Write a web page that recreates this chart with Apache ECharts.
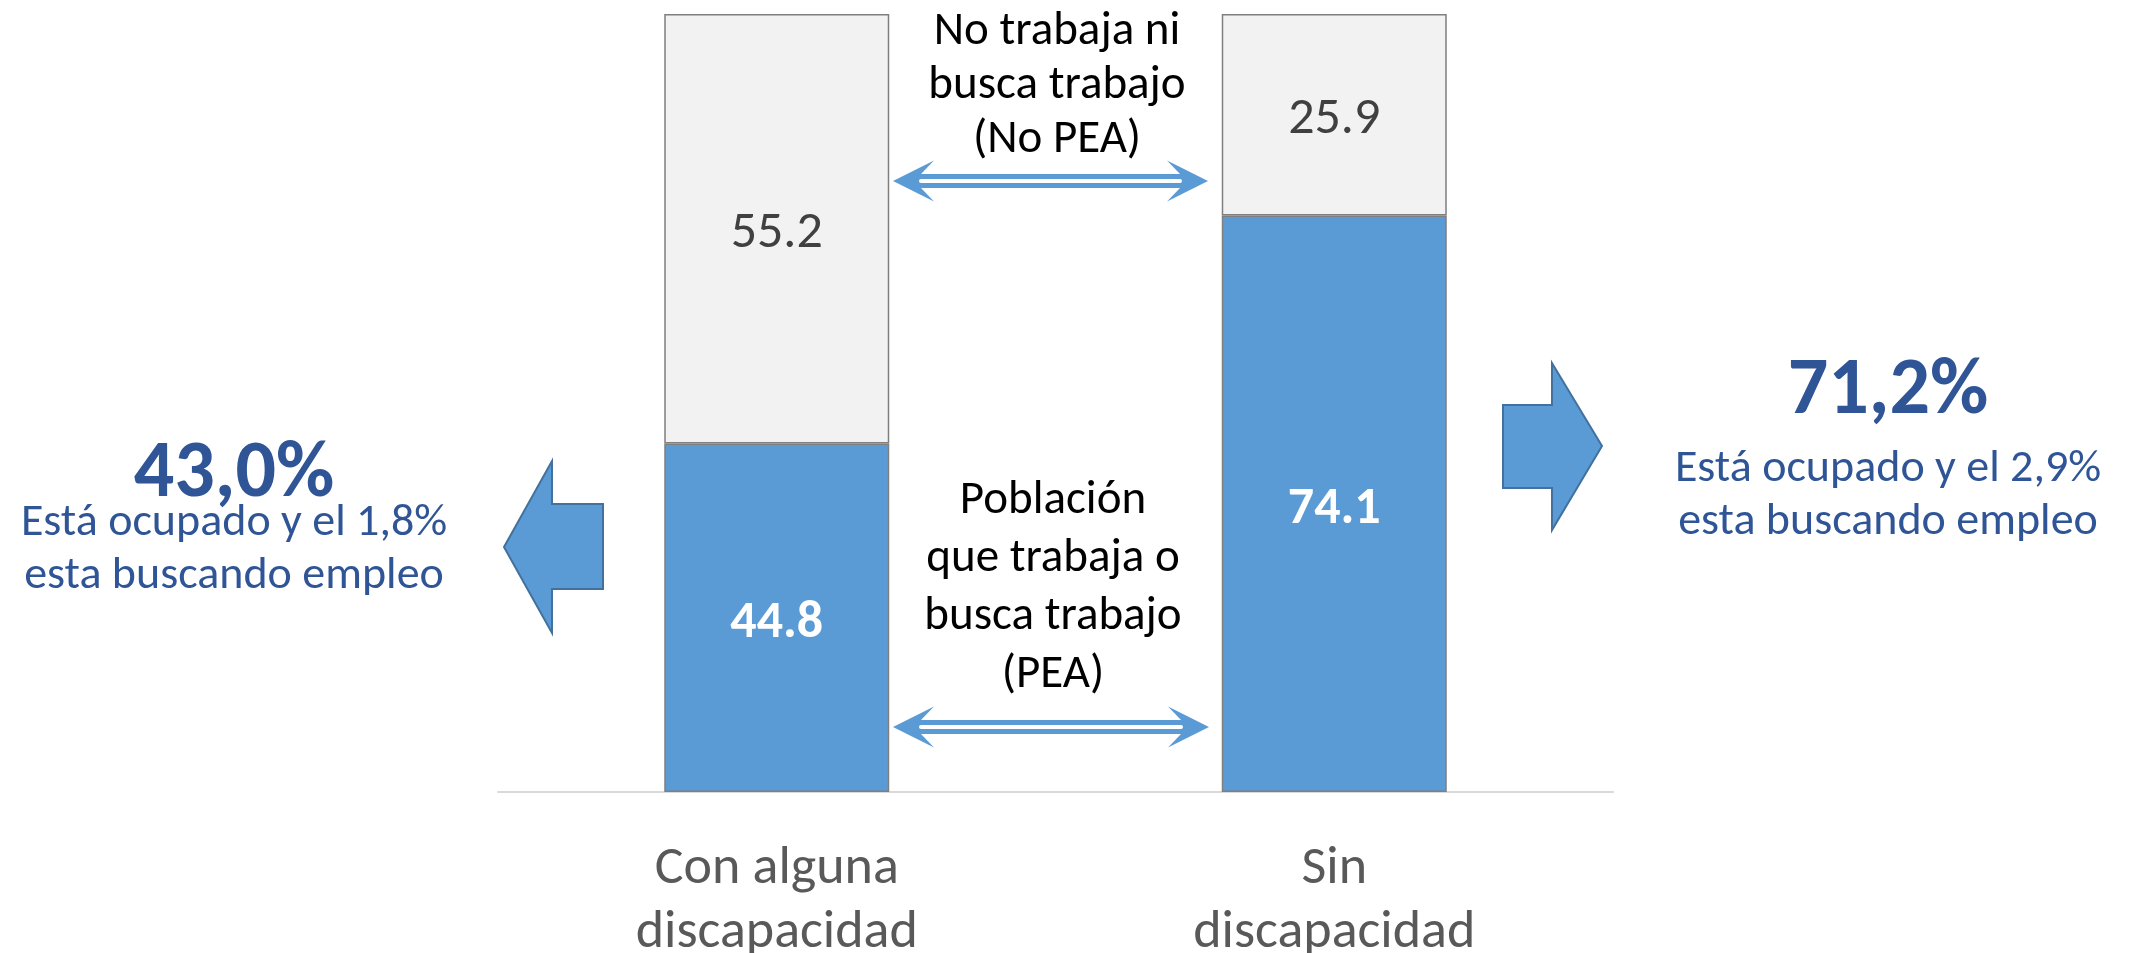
<!DOCTYPE html>
<html lang="es">
<head>
    <meta charset="UTF-8">
    <title>PEA segun condicion de discapacidad</title>
    <style>
        html, body { margin: 0; padding: 0; background: #ffffff; }
        #grafico { width: 2138px; height: 953px; }
    </style>
</head>
<body>
<div id="grafico"></div>

<script src="https://cdn.jsdelivr.net/npm/echarts@6/dist/echarts.min.js"></script>
<script type="text/javascript">

    // datos
    var categorias = ['Con alguna\ndiscapacidad', 'Sin\ndiscapacidad'];
    var valoresPEA = [44.8, 74.1];      // trabaja o busca trabajo
    var valoresNoPEA = [55.2, 25.9];    // no trabaja ni busca trabajo
    var pctOcupado = ['43,0%', '71,2%'];
    var pctBuscando = ['1,8%', '2,9%'];

    var fuente = 'Carlito, Lato, sans-serif';
    var azul = '#5B9BD5';
    var azulOscuro = '#2F5597';

    // flecha doble (dos lineas con hueco blanco)
    function flechaDoble(x1, x2, y) {
        var h = 20.5, cab = 41, notch = 28, g = 7;
        return [
            {
                type: 'polygon',
                shape: {
                    points: [
                        [x1, y], [x1 + cab, y - h], [x1 + notch, y - g],
                        [x2 - notch, y - g], [x2 - cab, y - h], [x2, y],
                        [x2 - cab, y + h], [x2 - notch, y + g],
                        [x1 + notch, y + g], [x1 + cab, y + h]
                    ]
                },
                style: { fill: azul }
            },
            {
                type: 'line',
                shape: { x1: x1 + notch, y1: y, x2: x2 - notch, y2: y },
                style: { stroke: '#ffffff', lineWidth: 4, lineCap: 'round' }
            }
        ];
    }

    function texto(x, y, txt, size, color, peso, alto) {
        return {
            type: 'text',
            x: x, y: y,
            style: {
                text: txt,
                fill: color,
                fontFamily: fuente,
                fontSize: size,
                fontWeight: peso || 'normal',
                lineHeight: alto || size * 1.2,
                align: 'center',
                verticalAlign: 'middle'
            }
        };
    }

    var graficos = [];
    graficos = graficos.concat(flechaDoble(893, 1208, 181));
    graficos = graficos.concat(flechaDoble(893, 1209, 727));

    // flecha bloque izquierda
    graficos.push({
        type: 'polygon',
        shape: { points: [[504, 547], [552, 461], [552, 504], [603, 504], [603, 589], [552, 589], [552, 633]] },
        style: { fill: azul, stroke: '#41719C', lineWidth: 2 }
    });
    // flecha bloque derecha
    graficos.push({
        type: 'polygon',
        shape: { points: [[1503, 405], [1552, 405], [1552, 363], [1602, 446], [1552, 530], [1552, 488], [1503, 488]] },
        style: { fill: azul, stroke: '#41719C', lineWidth: 2 }
    });

    // textos del centro
    graficos.push(texto(1057, 86, 'No trabaja ni\nbusca trabajo\n(No PEA)', 47, '#000000', 'normal', 54));
    graficos.push(texto(1053, 588, 'Población\nque trabaja o\nbusca trabajo\n(PEA)', 47, '#000000', 'normal', 58));

    // resumen a los lados
    graficos.push(texto(234, 476, pctOcupado[0], 80, azulOscuro, 'bold'));
    graficos.push(texto(234, 550, 'Está ocupado y el ' + pctBuscando[0] + '\nesta buscando empleo', 46, azulOscuro, 'normal', 53));
    graficos.push(texto(1888, 393, pctOcupado[1], 80, azulOscuro, 'bold'));
    graficos.push(texto(1888, 496, 'Está ocupado y el ' + pctBuscando[1] + '\nesta buscando empleo', 46, azulOscuro, 'normal', 53));

    var chart = echarts.init(document.getElementById('grafico'));
    chart.setOption({
        animation: false,
        grid: { left: 498, right: 525, top: 14, bottom: 161, outerBoundsMode: 'none' },
        xAxis: {
            type: 'category',
            data: categorias,
            axisLine: { lineStyle: { color: '#D9D9D9', width: 2 } },
            axisTick: { show: false },
            axisLabel: {
                color: '#595959',
                fontFamily: fuente,
                fontSize: 54,
                lineHeight: 64,
                margin: 45
            }
        },
        yAxis: {
            type: 'value',
            min: 0,
            max: 100,
            show: false,
            splitLine: { show: false }
        },
        series: [
            {
                name: 'PEA',
                type: 'bar',
                stack: 'total',
                barWidth: 225,
                data: valoresPEA,
                itemStyle: { color: azul, borderColor: '#7F7F7F', borderWidth: 1.5 },
                label: {
                    show: true,
                    position: 'inside',
                    offset: [0, 6],
                    color: '#ffffff',
                    fontFamily: fuente,
                    fontWeight: 'bold',
                    fontSize: 52,
                    formatter: function (p) { return p.value.toFixed(1); }
                }
            },
            {
                name: 'No PEA',
                type: 'bar',
                stack: 'total',
                barWidth: 225,
                data: valoresNoPEA,
                itemStyle: { color: '#F2F2F2', borderColor: '#7F7F7F', borderWidth: 1.5 },
                label: {
                    show: true,
                    position: 'inside',
                    offset: [0, 5],
                    color: '#404040',
                    fontFamily: fuente,
                    fontSize: 52,
                    formatter: function (p) { return p.value.toFixed(1); }
                }
            }
        ],
        graphic: graficos
    });

</script>
</body>
</html>
